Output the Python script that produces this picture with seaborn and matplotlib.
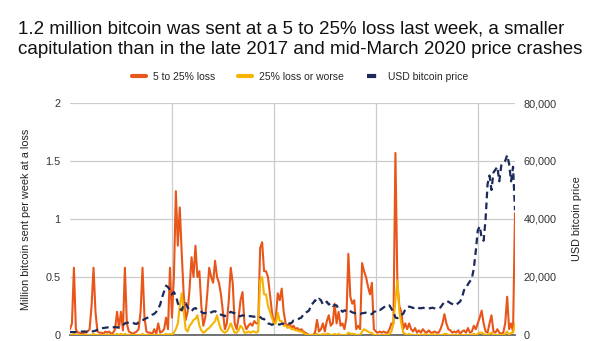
import numpy as np
import pandas as pd
import matplotlib
matplotlib.use("Agg")
import matplotlib.pyplot as plt
from matplotlib.lines import Line2D
from matplotlib.ticker import FuncFormatter
import seaborn as sns

# Weekly data, Jan 2017 -> mid-May 2021 (228 weeks)
loss_5_25 = [
    0.05, 0.1, 0.58, 0.05, 0.02, 0.02, 0.01, 0.02, 0.02, 0.03,
    0.05, 0.25, 0.58, 0.2, 0.03, 0.02, 0.02, 0.01, 0.03, 0.02,
    0.03, 0.01, 0.02, 0.05, 0.2, 0.06, 0.2, 0.04, 0.58, 0.1,
    0.03, 0.02, 0.01, 0.02, 0.03, 0.05, 0.2, 0.58, 0.15, 0.03,
    0.02, 0.02, 0.01, 0.05, 0.01, 0.1, 0.02, 0.03, 0.05, 0.15,
    0.05, 0.58, 0.15, 0.5, 1.24, 0.77, 1.1, 0.7, 0.35, 0.13,
    0.2, 0.4, 0.67, 0.5, 0.77, 0.5, 0.55, 0.25, 0.08, 0.15,
    0.35, 0.58, 0.5, 0.45, 0.64, 0.5, 0.45, 0.35, 0.2, 0.05,
    0.1, 0.3, 0.58, 0.45, 0.1, 0.05, 0.15, 0.3, 0.37, 0.1,
    0.05, 0.08, 0.1, 0.08, 0.12, 0.1, 0.1, 0.75, 0.8, 0.55,
    0.55, 0.5, 0.35, 0.2, 0.1, 0.15, 0.36, 0.3, 0.4, 0.2,
    0.1, 0.08, 0.1, 0.06, 0.08, 0.05, 0.06, 0.04, 0.05, 0.03,
    0.02, 0.01, 0.0, 0.0, 0.0, 0.02, 0.13, 0.03, 0.05, 0.1,
    0.03, 0.12, 0.17, 0.08, 0.1, 0.27, 0.1, 0.2, 0.08, 0.1,
    0.05, 0.15, 0.7, 0.33, 0.27, 0.3, 0.05, 0.08, 0.05, 0.62,
    0.55, 0.5, 0.42, 0.35, 0.45, 0.05, 0.03, 0.02, 0.03, 0.02,
    0.03, 0.02, 0.02, 0.05, 0.1, 0.1, 1.57, 0.45, 0.25, 0.2,
    0.05, 0.1, 0.05, 0.1, 0.05, 0.03, 0.06, 0.02, 0.04, 0.02,
    0.05, 0.03, 0.02, 0.04, 0.02, 0.02, 0.03, 0.02, 0.02, 0.05,
    0.1, 0.18, 0.1, 0.05, 0.04, 0.02, 0.03, 0.02, 0.04, 0.01,
    0.03, 0.04, 0.02, 0.06, 0.02, 0.03, 0.08, 0.05, 0.1, 0.15,
    0.21, 0.1, 0.03, 0.02, 0.1, 0.17, 0.03, 0.02, 0.05, 0.02,
    0.01, 0.02, 0.1, 0.33, 0.05, 0.1, 0.03, 1.05,
]

loss_25_plus = [
    0, 0, 0.01, 0, 0, 0, 0, 0, 0, 0,
    0, 0, 0.01, 0, 0, 0, 0, 0, 0, 0,
    0, 0, 0, 0, 0.01, 0, 0.01, 0, 0.01, 0,
    0, 0, 0, 0, 0, 0, 0, 0.01, 0, 0,
    0, 0, 0, 0, 0, 0, 0, 0, 0, 0.01,
    0, 0.01, 0, 0.02, 0.05, 0.1, 0.25, 0.36, 0.2, 0.05,
    0.03, 0.08, 0.1, 0.13, 0.14, 0.17, 0.08, 0.04, 0.02, 0.03,
    0.05, 0.06, 0.08, 0.1, 0.12, 0.17, 0.1, 0.05, 0.03, 0.02,
    0.03, 0.06, 0.1, 0.06, 0.02, 0.02, 0.04, 0.08, 0.06, 0.02,
    0.02, 0.03, 0.02, 0.03, 0.03, 0.02, 0.03, 0.47, 0.5, 0.35,
    0.35, 0.25, 0.2, 0.15, 0.1, 0.1, 0.19, 0.12, 0.12, 0.08,
    0.08, 0.06, 0.07, 0.05, 0.05, 0.04, 0.04, 0.03, 0.03, 0.02,
    0.01, 0, 0, 0, 0, 0, 0.01, 0, 0, 0.01,
    0, 0.01, 0.01, 0, 0, 0.01, 0, 0.01, 0, 0,
    0, 0, 0.02, 0.01, 0.01, 0.01, 0, 0, 0, 0.03,
    0.05, 0.04, 0.03, 0.02, 0.02, 0, 0, 0, 0, 0,
    0, 0, 0, 0.01, 0.03, 0.1, 0.3, 0.47, 0.2, 0.1,
    0.02, 0.01, 0, 0.01, 0, 0, 0, 0, 0, 0,
    0, 0.01, 0, 0, 0, 0.01, 0, 0, 0, 0,
    0, 0.01, 0.01, 0, 0, 0, 0, 0, 0, 0,
    0, 0, 0, 0, 0, 0, 0.01, 0, 0.01, 0.02,
    0.02, 0.01, 0, 0, 0.01, 0.02, 0, 0, 0, 0,
    0, 0, 0.01, 0.03, 0, 0.02, 0.02, 0.1,
]

price_k = [
    1.0, 1.0, 1.0, 1.0, 1.1, 1.1, 1.2, 1.2, 1.2, 1.1,
    1.2, 1.2, 1.3, 1.5, 1.8, 2.0, 2.3, 2.4, 2.5, 2.6,
    2.7, 2.5, 2.6, 2.8, 2.6, 2.7, 3.0, 3.4, 4.0, 4.2,
    4.3, 4.4, 4.3, 3.9, 3.8, 4.4, 4.6, 5.0, 5.5, 5.8,
    6.1, 6.4, 7.0, 7.3, 8.0, 9.0, 10.5, 13.0, 15.0, 17.0,
    16.5, 15.5, 14.0, 14.8, 13.5, 11.0, 9.0, 8.5, 10.5, 11.0,
    9.5, 8.5, 8.2, 9.0, 9.3, 8.7, 8.5, 8.0, 7.5, 7.6,
    7.5, 7.3, 7.8, 8.1, 8.2, 7.8, 7.5, 7.0, 6.8, 6.5,
    7.3, 7.5, 8.0, 7.7, 7.5, 6.8, 6.5, 6.5, 6.8, 6.6,
    6.3, 6.5, 6.5, 6.4, 6.3, 6.5, 6.4, 6.2, 5.6, 5.5,
    4.5, 4.0, 3.8, 3.5, 3.8, 3.6, 3.7, 3.6, 3.9, 3.9,
    3.8, 4.0, 4.0, 4.1, 5.0, 5.2, 5.3, 5.7, 6.0, 7.0,
    7.8, 8.0, 8.5, 10.5, 11.0, 12.0, 11.5, 12.5, 12.0, 10.5,
    10.8, 11.5, 10.5, 11.0, 10.0, 10.3, 10.2, 9.0, 8.8, 8.0,
    8.5, 8.2, 8.6, 8.2, 7.8, 7.6, 7.5, 7.3, 7.2, 7.5,
    7.6, 7.7, 7.4, 7.2, 7.2, 8.0, 8.2, 8.8, 8.6, 9.0,
    9.5, 10.0, 9.8, 10.2, 9.0, 8.0, 6.0, 5.8, 6.7, 7.0,
    7.3, 8.8, 9.5, 9.8, 9.6, 9.3, 9.5, 9.7, 9.3, 9.2,
    9.4, 9.2, 9.2, 9.1, 9.3, 9.4, 9.2, 9.1, 9.2, 9.5,
    10.5, 11.3, 11.7, 11.5, 11.0, 10.7, 10.5, 10.3, 11.0, 11.5,
    13.0, 15.5, 16.0, 17.5, 18.5, 19.5, 23.0, 29.0, 36.0, 37.5,
    33.5, 32.5, 40.0, 52.0, 55.0, 50.0, 56.0, 57.0, 58.0, 53.0,
    58.5, 59.5, 60.0, 62.0, 59.0, 53.0, 58.0, 43.0,
]

year_starts = [52, 104, 156, 208]
left_ticks = [0, 0.5, 1, 1.5, 2]
left_tick_labels = ["0", "0.5", "1", "1.5", "2"]
right_ticks = [0, 20000, 40000, 60000, 80000]

title = ("1.2 million bitcoin was sent at a 5 to 25% loss last week, a smaller\n"
         "capitulation than in the late 2017 and mid-March 2020 price crashes")
series_names = ["5 to 25% loss", "25% loss or worse", "USD bitcoin price"]

n = len(price_k)
df = pd.DataFrame({
    "week": np.arange(n),
    "loss_5_25": loss_5_25[:n],
    "loss_25_plus": loss_25_plus[:n],
    "price": np.array(price_k) * 1000,
})

sns.set_theme(style="white")
plt.rcParams["font.family"] = ["Liberation Sans", "DejaVu Sans"]

C_ORANGE = "#e8561a"
C_YELLOW = "#f5b400"
C_NAVY = "#1c2a5a"
GRID = "#cccccc"
TXT = "#222222"

fig = plt.figure(figsize=(6.0, 3.41), dpi=100)
ax = fig.add_axes([70 / 600, 6 / 341, 445 / 600, 232 / 341])

sns.lineplot(data=df, x="week", y="loss_5_25", ax=ax, color=C_ORANGE, lw=1.5, zorder=3)
sns.lineplot(data=df, x="week", y="loss_25_plus", ax=ax, color=C_YELLOW, lw=1.5, zorder=4)

ax.set_xlim(0, n - 1)
ax.set_ylim(0, 2)
ax.set_xticks(year_starts)
ax.set_xticklabels([])
ax.set_yticks(left_ticks)
ax.set_yticklabels(left_tick_labels)
ax.grid(True, color=GRID, lw=0.9)
ax.set_axisbelow(True)
for s in ["top", "right", "left"]:
    ax.spines[s].set_visible(False)
ax.spines["bottom"].set_color("#666666")
ax.spines["bottom"].set_linewidth(1.3)
ax.tick_params(axis="both", length=0)
ax.tick_params(axis="y", pad=7, labelsize=7.8, labelcolor="#333333")
ax.set_xlabel("")
ax.set_ylabel("Million bitcoin sent per week at a loss", fontsize=7.8, color=TXT, labelpad=10)

ax2 = ax.twinx()
sns.lineplot(data=df, x="week", y="price", ax=ax2, color=C_NAVY, lw=1.6,
             linestyle=(0, (3.0, 1.9)), zorder=5)
ax2.set_ylim(0, 80000)
ax2.set_yticks(right_ticks)
ax2.yaxis.set_major_formatter(FuncFormatter(lambda v, p: f"{int(v):,}"))
ax2.grid(False)
for s in ["top", "right", "left", "bottom"]:
    ax2.spines[s].set_visible(False)
ax2.tick_params(axis="y", length=0, pad=6, labelsize=7.8, labelcolor="#333333")
ax2.set_ylabel("USD bitcoin price", fontsize=7.8, color=TXT, labelpad=11)
ax2.set_xlabel("")

fig.text(18 / 600, 1 - 21 / 341, title, ha="left", va="top", fontsize=13.5,
         color="#111111", linespacing=1.25)

handles = [
    Line2D([], [], color=C_ORANGE, lw=3),
    Line2D([], [], color=C_YELLOW, lw=3),
    Line2D([], [], color=C_NAVY, lw=3, linestyle=(0, (2.2, 1.6))),
]
fig.legend(handles, series_names, loc="center", bbox_to_anchor=(0.5, 1 - 77 / 341),
           ncol=3, frameon=False, fontsize=7.5, handlelength=1.3, columnspacing=2.2,
           handletextpad=0.7)

fig.savefig("out.png", dpi=100)
